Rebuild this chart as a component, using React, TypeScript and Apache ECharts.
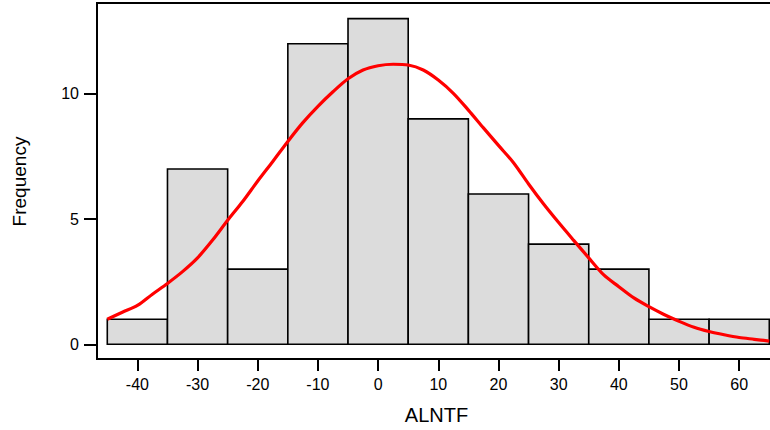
import React, { useEffect, useRef } from "react";
import * as echarts from "echarts";

const binEdges = [-45, -35, -25, -15, -5, 5, 15, 25, 35, 45, 55, 65];
const counts = [1, 7, 3, 12, 13, 9, 6, 4, 3, 1, 1];
const xTicks = [-40, -30, -20, -10, 0, 10, 20, 30, 40, 50, 60];
const yTicks = [0, 5, 10];
const curveX = [
  -45, -42.5, -40, -37.5, -35, -32.5, -30, -27.5, -25, -22.5, -20, -17.5, -15, -12.5, -10, -7.5, -5, -2.5,
  0, 2.5, 5, 7.5, 10, 12.5, 15, 17.5, 20, 22.5, 25, 27.5, 30, 32.5, 35, 37.5, 40, 42.5, 45, 47.5, 50,
  52.5, 55, 57.5, 60, 62.5, 65,
];
const curveY = [
  1.0, 1.28, 1.55, 2.0, 2.43, 2.9, 3.45, 4.16, 4.95, 5.7, 6.52, 7.3, 8.1, 8.85, 9.5, 10.08, 10.6, 10.95,
  11.12, 11.18, 11.15, 10.95, 10.55, 10.02, 9.35, 8.64, 7.94, 7.25, 6.4, 5.6, 4.86, 4.15, 3.45, 2.77,
  2.3, 1.85, 1.5, 1.19, 0.92, 0.68, 0.51, 0.38, 0.27, 0.2, 0.13,
];
const xTitle = "ALNTF";
const yTitle = "Frequency";

const FONT = "'Liberation Sans', Arial, sans-serif";

export default function App() {
  const ref = useRef<HTMLDivElement>(null);
  useEffect(() => {
    if (!ref.current) return;
    const chart = echarts.init(ref.current, null, { renderer: "svg" });
    const barData = counts.map((c, i) => [binEdges[i], binEdges[i + 1], c]);
    const lineData = curveX.map((x, i) => [x, curveY[i]]);
    chart.setOption({
      animation: false,
      backgroundColor: "#ffffff",
      grid: {
        left: 97,
        top: 3,
        right: 10,
        bottom: 71,
        show: true,
        borderColor: "#000",
        borderWidth: 2,
        backgroundColor: "transparent",
      },
      xAxis: {
        type: "value",
        min: -46.71,
        max: 66.78,
        axisLine: { show: false, onZero: false },
        splitLine: { show: false },
        axisTick: {
          show: true,
          inside: false,
          length: 12,
          customValues: xTicks,
          lineStyle: { color: "#000", width: 2 },
        },
        axisLabel: {
          customValues: xTicks,
          margin: 17,
          color: "#000",
          fontSize: 16,
          fontFamily: FONT,
        },
      },
      yAxis: {
        type: "value",
        min: -0.587,
        max: 13.625,
        axisLine: { show: false, onZero: false },
        splitLine: { show: false },
        axisTick: {
          show: true,
          inside: false,
          length: 13,
          customValues: yTicks,
          lineStyle: { color: "#000", width: 2 },
        },
        axisLabel: {
          customValues: yTicks,
          margin: 18,
          color: "#000",
          fontSize: 16,
          fontFamily: FONT,
        },
      },
      graphic: [
        {
          type: "text",
          x: 19.5,
          y: 181.5,
          rotation: Math.PI / 2,
          style: {
            text: yTitle,
            fill: "#000",
            font: `19px ${FONT}`,
            align: "center",
            verticalAlign: "middle",
          },
        },
        {
          type: "text",
          x: 436.5,
          y: 415,
          style: {
            text: xTitle,
            fill: "#000",
            font: `20px ${FONT}`,
            align: "center",
            verticalAlign: "middle",
          },
        },
      ],
      series: [
        {
          type: "custom",
          data: barData,
          encode: { x: [0, 1], y: 2 },
          renderItem: (params: any, api: any) => {
            const x0 = api.value(0);
            const x1 = api.value(1);
            const c = api.value(2);
            const p0 = api.coord([x0, c]);
            const p1 = api.coord([x1, 0]);
            return {
              type: "rect",
              shape: { x: p0[0], y: p0[1], width: p1[0] - p0[0], height: p1[1] - p0[1] },
              style: { fill: "#dcdcdc", stroke: "#000", lineWidth: 1.6 },
            };
          },
          z: 2,
        },
        {
          type: "line",
          data: lineData,
          smooth: 0.3,
          showSymbol: false,
          lineStyle: { color: "#ff0000", width: 3.2 },
          z: 3,
        },
      ],
    });
    return () => chart.dispose();
  }, []);
  return (
    <div
      ref={ref}
      style={{ position: "fixed", left: 0, top: 0, width: 790, height: 430, background: "#fff" }}
    />
  );
}
